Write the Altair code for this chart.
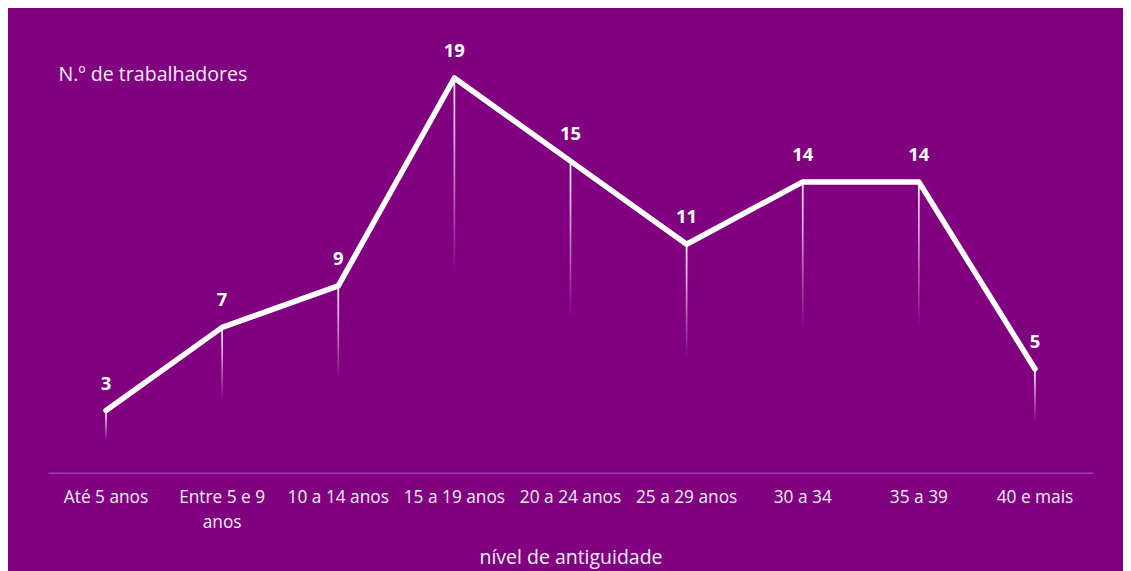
import altair as alt
import pandas as pd

categories = ["Até 5 anos", "Entre 5 e 9 anos", "10 a 14 anos", "15 a 19 anos",
              "20 a 24 anos", "25 a 29 anos", "30 a 34", "35 a 39", "40 e mais"]
values = [3, 7, 9, 19, 15, 11, 14, 14, 5]

df = pd.DataFrame({"cat": categories, "v": values})

BG = "#800080"
FONT = "Open Sans"
TXT = "#f4eef6"

x_enc = alt.X(
    "cat:N", sort=categories,
    scale=alt.Scale(type="band", paddingInner=0, paddingOuter=0),
    bandPosition=0.5,
    axis=alt.Axis(
        title="nível de antiguidade", titleColor=TXT, titleFontSize=19.5,
        titleFont=FONT, titleFontWeight="normal", titlePadding=17,
        labelColor=TXT, labelFontSize=17.3, labelFont=FONT, labelAngle=0,
        labelAlign="center", labelBaseline="top",
        labelPadding=16, labelLineHeight=25, labelLimit=200,
        labelExpr="datum.label == 'Entre 5 e 9 anos' ? ['Entre 5 e 9', 'anos'] : datum.label",
        ticks=False, domainColor="#a23cb4", domainWidth=1.5, grid=False,
    ),
)

y_axis = alt.Axis(
    title="N.º de trabalhadores", titleAngle=0, titleX=10, titleY=17,
    titleAlign="left", titleBaseline="middle", titleColor=TXT,
    titleFontSize=19.6, titleFont=FONT, titleFontWeight="normal",
    labels=False, ticks=False, domain=False, grid=False,
)
y_scale = alt.Scale(domain=[0, 20], nice=False)

base = alt.Chart(df)

drops = base.transform_calculate(half="datum.v / 2").mark_bar(
    width=1.7,
    fill=alt.Gradient(
        gradient="linear",
        stops=[alt.GradientStop(color="#ffffff", offset=0),
               alt.GradientStop(color=BG, offset=1)],
        x1=0, x2=0, y1=0, y2=1,
    ),
).encode(
    x=x_enc,
    y=alt.Y("v:Q", scale=y_scale, axis=y_axis),
    y2="half:Q",
)

line = base.mark_line(
    color="white", strokeWidth=5.5, strokeCap="round", strokeJoin="round"
).encode(x=x_enc, y=alt.Y("v:Q", scale=y_scale, axis=y_axis))

labels = base.mark_text(
    dy=-27, color="white", fontSize=18.5, fontWeight="bold", font=FONT
).encode(x=x_enc, y=alt.Y("v:Q", scale=y_scale, axis=y_axis), text="v:Q")

chart = alt.layer(drops, line, labels).properties(
    width=1046, height=416,
    background=BG,
    autosize=alt.AutoSizeParams(type="none"),
    padding={"left": 40, "top": 49, "right": 30, "bottom": 98},
).configure_view(stroke=None)

chart.save("out.html", embed_options={"renderer": "svg", "actions": False})
